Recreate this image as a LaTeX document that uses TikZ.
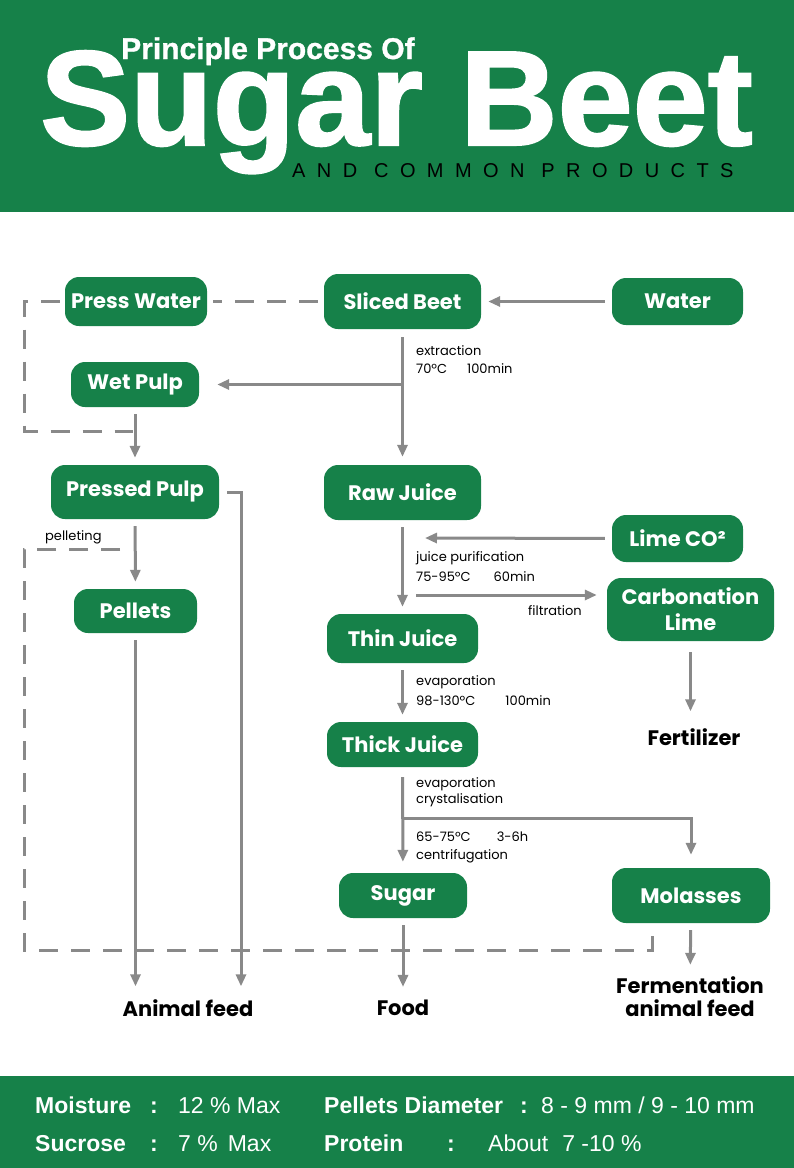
\documentclass[tikz,border=0pt]{standalone}
\usepackage{fontspec}
\setmainfont{Poppins}
\newfontfamily\headfont{Liberation Sans}
\usetikzlibrary{arrows.meta,calc}
\definecolor{beet}{RGB}{22,129,73}
\definecolor{pipe}{RGB}{137,137,137}

\begin{document}
\begin{tikzpicture}[x=1pt,y=-1pt,
  box/.style={fill=beet,rounded corners=14pt,text=white,font=\bfseries\fontsize{21}{26}\selectfont,inner sep=0pt,align=center},
  endtext/.style={font=\bfseries\fontsize{21}{23}\selectfont,align=center,inner sep=0pt},
  flow/.style={draw=pipe,line width=3pt,-{Triangle[length=12pt,width=10pt]},shorten >=7pt,shorten <=7pt},
  recycle/.style={draw=pipe,line width=3pt,dash pattern=on 19pt off 13pt},
  note/.style={anchor=west,font=\fontsize{13}{14}\selectfont,inner sep=0pt},
  info/.style={anchor=base west,text=white,inner sep=0pt,font=\headfont\fontsize{23}{25}\selectfont},
  infokey/.style={info,font=\headfont\bfseries\fontsize{23}{25}\selectfont}]
\useasboundingbox (0,0) rectangle (794,1168);
\fill[beet] (0,0) rectangle (794,212);
\fill[beet] (0,1076) rectangle (794,1168);

\node[anchor=base west,text=white,inner sep=0pt,font=\headfont\bfseries\fontsize{30}{30}\selectfont\addfontfeature{FakeBold=1}] (subtitle) at (121,59) {Principle Process Of};
\node[anchor=base west,text=white,inner sep=0pt,font=\headfont\bfseries\fontsize{135}{135}\selectfont\addfontfeature{FakeBold=1.5}] (title) at (40,145) {Sugar Beet};
\node[anchor=base west,inner sep=0pt,font=\headfont\fontsize{20}{20}\selectfont\addfontfeature{LetterSpace=57}] (tagline) at (292,177) {AND COMMON PRODUCTS};

\node[box,minimum width=142pt,minimum height=49pt] (presswater) at (136,301.5) {Press Water};
\node[box,minimum width=157pt,minimum height=55pt] (slicedbeet) at (402.5,301.5) {Sliced Beet};
\node[box,minimum width=131pt,minimum height=47pt] (water) at (677.5,301.5) {Water};
\node[box,minimum width=128pt,minimum height=45pt] (wetpulp) at (135,384.5) {Wet Pulp};
\node[box,minimum width=168pt,minimum height=54pt] (pressedpulp) at (135,492) {Pressed Pulp};
\node[box,minimum width=157pt,minimum height=55pt] (rawjuice) at (402.5,492.5) {Raw Juice};
\node[box,minimum width=131pt,minimum height=47pt] (lime) at (677.5,538.5) {Lime CO²};
\node[box,minimum width=167pt,minimum height=63pt] (carbonation) at (690.5,609.5) {Carbonation\\Lime};
\node[box,minimum width=123pt,minimum height=44pt] (pellets) at (135.5,611) {Pellets};
\node[box,minimum width=151pt,minimum height=49pt] (thinjuice) at (402.5,638.5) {Thin Juice};
\node[box,minimum width=151pt,minimum height=45pt] (thickjuice) at (402.5,744.5) {Thick Juice};
\node[box,minimum width=128pt,minimum height=45pt] (sugar) at (403,895.5) {Sugar};
\node[box,minimum width=158pt,minimum height=55pt] (molasses) at (691,895.5) {Molasses};
\node[endtext] (fertilizer) at (694,737) {Fertilizer};
\node[endtext] (animalfeed) at (188,1008) {Animal feed};
\node[endtext] (food) at (403,1008) {Food};
\node[endtext] (ferment) at (690,997) {Fermentation\\animal feed};

\node[note] (lextr) at (416,351) {extraction};
\node[note] (lextrval) at (416,369) {70ºC\hspace{20pt}100min};
\node[note] (lpurif) at (416,558) {juice purification};
\node[note] (lpurifval) at (416,577) {75-95ºC\hspace{23pt}60min};
\node[note] (lfilt) at (528,611) {filtration};
\node[note] (levap) at (416,682) {evaporation};
\node[note] (levapval) at (416,701) {98-130ºC\hspace{30pt}100min};
\node[note] (lcryst) at (416,784) {evaporation};
\node[note] (lcrystb) at (416,800) {crystalisation};
\node[note] (lcentval) at (416,837) {65-75ºC\hspace{26pt}3-6h};
\node[note] (lcent) at (416,856) {centrifugation};
\node[note] (lpellet) at (45,537) {pelleting};

\coordinate (wetbr) at (slicedbeet |- wetpulp);
\coordinate (limein) at (425,538);
\coordinate (filtin) at (416,595);
\coordinate (molbr) at (402.5,818);
\coordinate (feedR) at (241,0);
\coordinate (pwturn) at (24,301.5);
\coordinate (pwjoin) at (133,431);
\coordinate (plstart) at (120,549);
\coordinate (plturn) at (24,549);
\coordinate (plbottom) at (24,950);
\coordinate (moljoin) at (652,934);

\draw[flow] (water.west) -- (slicedbeet.east);
\draw[flow,shorten <=8pt,shorten >=8pt] (slicedbeet) -- (rawjuice);
\draw[flow,shorten <=0pt,shorten >=18pt] (wetbr) -- (wetpulp.east);
\draw[recycle] ([xshift=-6pt]slicedbeet.west) -- ([xshift=6pt]presswater.east);
\draw[recycle] ([xshift=-5pt]presswater.west) -- (pwturn) |- (pwjoin);
\draw[flow] (wetpulp) -- (pressedpulp);
\draw[flow] (pressedpulp) -- (pellets);
\draw[recycle] (plstart) -- (plturn) -- (plbottom) -| (moljoin);
\draw[flow,shorten <=8pt,shorten >=13pt] (pressedpulp.east) -| (animalfeed.north -| feedR);
\draw[flow,shorten >=13pt] (pellets) -- (pellets |- animalfeed.north);
\draw[flow] (rawjuice) -- (thinjuice);
\draw[flow,shorten >=0pt] (lime.west) -- (limein);
\draw[flow,shorten <=0pt,shorten >=10pt] (filtin) -- (filtin -| carbonation.west);
\draw[flow] (thinjuice) -- (thickjuice);
\draw[flow,shorten <=11pt,shorten >=17pt] (carbonation.south) -- (carbonation.south |- fertilizer.north);
\draw[flow,shorten <=10pt,shorten >=11pt] (thickjuice) -- (sugar);
\draw[flow,shorten <=0pt,shorten >=13pt] (molbr) -| (molasses.north);
\draw[flow,shorten >=13pt] (sugar) -- (food);
\draw[flow,shorten >=12pt] (molasses) -- (ferment);

\node[infokey] (moist) at (35,1113) {Moisture};
\node[infokey] (moistc) at (150,1113) {:};
\node[info] (moistv) at (178,1113) {12 \% Max};
\node[infokey] (diam) at (324,1113) {Pellets Diameter};
\node[infokey] (diamc) at (520,1113) {:};
\node[info] (diamv) at (541,1113) {8 - 9 mm / 9 - 10 mm};
\node[infokey] (sucr) at (35,1151) {Sucrose};
\node[infokey] (sucrc) at (150,1151) {:};
\node[info] (sucrv) at (178,1151) {7 \%\hspace{10pt}Max};
\node[infokey] (prot) at (324,1151) {Protein};
\node[infokey] (protc) at (447,1151) {:};
\node[info] (protv) at (488,1151) {About\hspace{14pt}7 -10 \%};
\end{tikzpicture}
\end{document}
